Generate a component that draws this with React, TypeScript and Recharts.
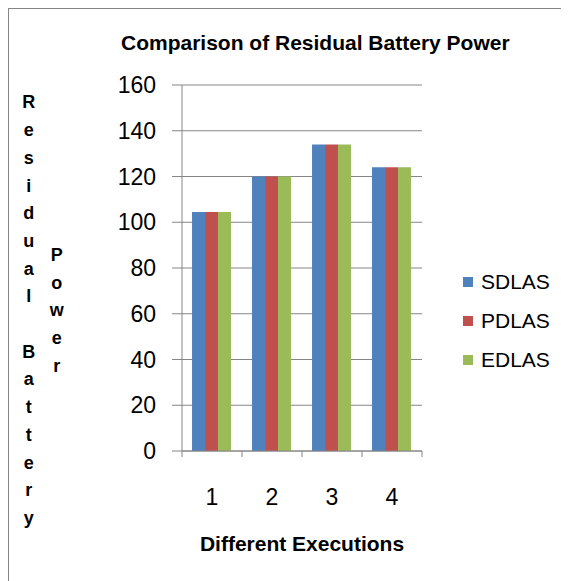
import { Bar, BarChart, CartesianGrid, Legend, XAxis, YAxis } from 'recharts';

const categories = ['1', '2', '3', '4'];
const sdlas = [104.5, 120, 134, 124];
const pdlas = [104.5, 120, 134, 124];
const edlas = [104.5, 120, 134, 124];
const yTicks = [0, 20, 40, 60, 80, 100, 120, 140, 160];

const seriesNames = ['SDLAS', 'PDLAS', 'EDLAS'];
const seriesColors = ['#4F81BD', '#C0504D', '#9BBB59'];

const yTitleCol1 = ['R', 'e', 's', 'i', 'd', 'u', 'a', 'l', '', 'B', 'a', 't', 't', 'e', 'r', 'y'];
const yTitleCol2 = ['P', 'o', 'w', 'e', 'r'];

const data = categories.map((c, i) => ({
	name: c,
	SDLAS: sdlas[i],
	PDLAS: pdlas[i],
	EDLAS: edlas[i],
}));

const FONT = '"Liberation Sans", Arial, sans-serif';
const GRID = '#868686';
const TICK_MARGIN = 38;

function XTick(props: any) {
	const { x, y, payload } = props;
	const half = payload.offset ?? 0;
	const axisY = y - TICK_MARGIN;
	const isLast = payload.value === categories[categories.length - 1];
	return (
		<g>
			<line x1={x - half} y1={axisY} x2={x - half} y2={axisY + 6} stroke={GRID} />
			{isLast && <line x1={x + half} y1={axisY} x2={x + half} y2={axisY + 6} stroke={GRID} />}
			<text x={x} y={y} dy="0.71em" textAnchor="middle" fontSize={23} fill="#000" fontFamily={FONT}>
				{payload.value}
			</text>
		</g>
	);
}

function YTitle() {
	const step = 27.7;
	return (
		<g fontFamily={FONT} fontWeight="bold" fontSize={18} fill="#000">
			{yTitleCol1.map((ch, i) => (
				<text key={'a' + i} x={19.7} y={99.4 + i * step} textAnchor="middle">
					{ch}
				</text>
			))}
			{yTitleCol2.map((ch, i) => (
				<text key={'b' + i} x={47.7} y={252 + i * step} textAnchor="middle">
					{ch}
				</text>
			))}
		</g>
	);
}

function LegendBox(props: any) {
	const items = [...(props.payload ?? [])].sort(
		(a: any, b: any) => seriesNames.indexOf(a.value) - seriesNames.indexOf(b.value),
	);
	return (
		<div style={{ fontFamily: FONT, fontSize: 21, color: '#000' }}>
			{items.map((p: any) => (
				<div key={p.value} style={{ height: 38.7, display: 'flex', alignItems: 'center' }}>
					<span style={{ width: 10, height: 10, background: p.color, marginRight: 8, display: 'inline-block' }} />
					<span>{p.value}</span>
				</div>
			))}
		</div>
	);
}

export default function App() {
	return (
		<>
			<style>{'html,body{overflow:hidden}'}</style>
			<div
				style={{
					position: 'relative',
					width: 640,
					height: 640,
					borderLeft: `1px solid ${GRID}`,
					borderTop: `1px solid ${GRID}`,
					background: '#fff',
				}}
			>
				<div
					style={{
						position: 'absolute',
						left: 112,
						top: 22.7,
						fontFamily: FONT,
						fontWeight: 'bold',
						fontSize: 21,
						lineHeight: '21px',
						whiteSpace: 'nowrap',
						color: '#000',
					}}
				>
					Comparison of Residual Battery Power
				</div>
				<BarChart
					width={560}
					height={572}
					data={data}
					margin={{ top: 76, right: 147, bottom: 30, left: 103 }}
					barCategoryGap="16.7%"
					barGap={0}
				>
					<CartesianGrid horizontal vertical={false} stroke={GRID} />
					<XAxis
						dataKey="name"
						height={100}
						axisLine={{ stroke: GRID }}
						tickLine={false}
						tickSize={0}
						tickMargin={TICK_MARGIN}
						tick={<XTick />}
						label={{
							value: 'Different Executions',
							position: 'insideBottom',
							offset: 0,
							fontSize: 21,
							fontWeight: 'bold',
							fontFamily: FONT,
							fill: '#000',
						}}
					/>
					<YAxis
						width={70}
						domain={[0, 160]}
						ticks={yTicks}
						interval={0}
						axisLine={{ stroke: GRID }}
						tickLine={{ stroke: GRID }}
						tickSize={10}
						tickMargin={16}
						tick={{ fontSize: 23, fill: '#000', fontFamily: FONT }}
						label={{ content: () => <YTitle /> }}
					/>
					<Legend
						layout="vertical"
						align="center"
						verticalAlign="middle"
						content={<LegendBox />}
						wrapperStyle={{ left: 454, top: 254, width: 'auto' }}
					/>
					{seriesNames.map((s, i) => (
						<Bar key={s} dataKey={s} fill={seriesColors[i]} isAnimationActive={false} />
					))}
				</BarChart>
			</div>
		</>
	);
}
